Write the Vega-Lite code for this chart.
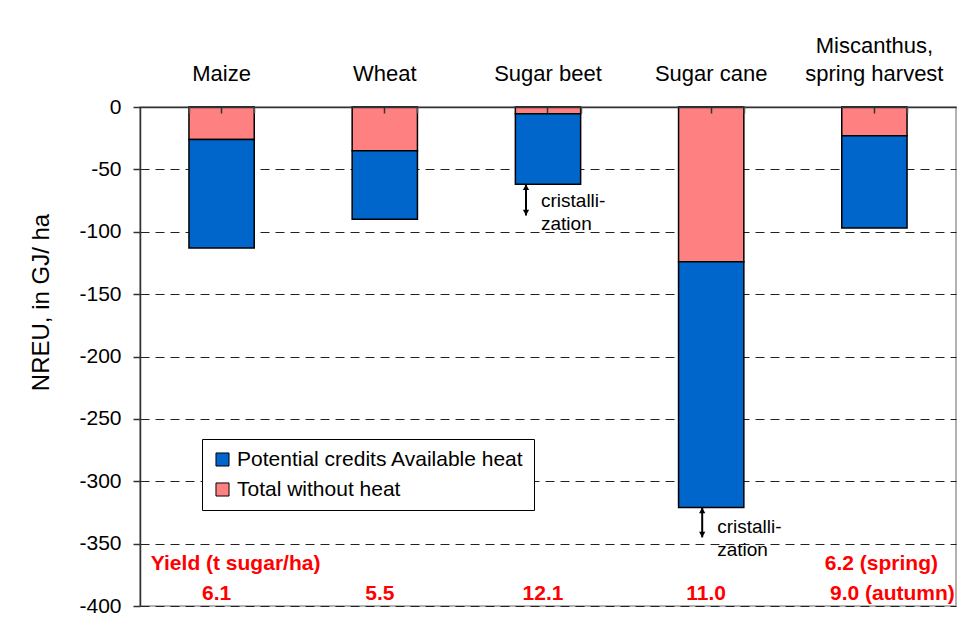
{
  "$schema": "https://vega.github.io/schema/vega-lite/v6.json",
  "width": 816,
  "height": 499,
  "autosize": {"type": "none"},
  "padding": {"left": 140, "top": 107, "right": 22, "bottom": 32},
  "background": "white",
  "config": {
    "font": "Liberation Sans",
    "view": {"stroke": "#999", "strokeWidth": 1.5}
  },
  "datasets": {
    "bars": [
      {"crop": "Maize", "series": "Total without heat", "value": -26},
      {"crop": "Maize", "series": "Potential credits Available heat", "value": -87},
      {"crop": "Wheat", "series": "Total without heat", "value": -35},
      {"crop": "Wheat", "series": "Potential credits Available heat", "value": -55},
      {"crop": "Sugar beet", "series": "Total without heat", "value": -5.5},
      {"crop": "Sugar beet", "series": "Potential credits Available heat", "value": -56.5},
      {"crop": "Sugar cane", "series": "Total without heat", "value": -124},
      {"crop": "Sugar cane", "series": "Potential credits Available heat", "value": -197},
      {"crop": "Miscanthus, spring harvest", "series": "Total without heat", "value": -23},
      {"crop": "Miscanthus, spring harvest", "series": "Potential credits Available heat", "value": -74}
    ],
    "notes": [
      {"crop": "Sugar beet", "top": -62, "bottom": -87, "texty": -75, "label": "cristalli-\nzation"},
      {"crop": "Sugar cane", "top": -321, "bottom": -345, "texty": -337, "label": "cristalli-\nzation"}
    ]
  },
  "layer": [
    {
      "data": {"name": "bars"},
      "mark": {"type": "bar", "stroke": "black", "strokeWidth": 1.5},
      "encoding": {
        "x": {
          "field": "crop", "type": "nominal",
          "sort": ["Maize", "Wheat", "Sugar beet", "Sugar cane", "Miscanthus, spring harvest"],
          "scale": {"paddingInner": 0.6, "paddingOuter": 0.3},
          "axis": {
            "orient": "top", "title": null, "labelAngle": 0, "labelFontSize": 22,
            "labelColor": "black", "labelPadding": 56, "tickSize": -6, "tickColor": "#333",
            "tickWidth": 1.5, "domainColor": "#333", "domainWidth": 1.5, "zindex": 2,
            "labelLineHeight": 28,
            "labelExpr": "datum.value == 'Miscanthus, spring harvest' ? ['Miscanthus,', 'spring harvest'] : ['', datum.value]"
          }
        },
        "y": {
          "field": "value", "type": "quantitative", "stack": "zero",
          "scale": {"domain": [-400, 0], "nice": false},
          "axis": {
            "title": "NREU, in GJ/ ha",
            "values": [0, -50, -100, -150, -200, -250, -300, -350, -400],
            "labelExpr": "toString(datum.value)",
            "grid": true, "gridDash": [9, 6], "gridColor": "#222", "gridWidth": 1,
            "tickSize": 7, "tickColor": "#333", "tickWidth": 1.5,
            "domainColor": "#333", "domainWidth": 1.5,
            "labelFontSize": 21, "labelColor": "black", "labelPadding": 12,
            "titleFontSize": 24, "titleFontWeight": "normal", "titleColor": "black",
            "titleX": -99, "titleY": 195, "titleAngle": -90,
            "titleAlign": "center", "titleBaseline": "middle"
          }
        },
        "color": {
          "field": "series", "type": "nominal",
          "scale": {"domain": ["Potential credits Available heat", "Total without heat"], "range": ["#0066CC", "#FF8080"]},
          "legend": {
            "orient": "none", "legendX": 62, "legendY": 332, "title": null,
            "symbolType": "square", "symbolSize": 170, "symbolStrokeColor": "black", "symbolStrokeWidth": 1,
            "labelFontSize": 21, "labelColor": "black", "labelLimit": 400,
            "strokeColor": "black", "fillColor": "white", "padding": 10, "rowPadding": 8
          }
        },
        "order": {"field": "series", "sort": "descending"}
      }
    },
    {
      "data": {"name": "bars"},
      "mark": {"type": "point", "opacity": 0},
      "encoding": {
        "x": {
          "field": "crop", "type": "nominal",
          "sort": ["Maize", "Wheat", "Sugar beet", "Sugar cane", "Miscanthus, spring harvest"],
          "axis": {"orient": "top", "title": null, "labels": false, "domain": false, "grid": false, "zindex": 2,
                   "tickBand": "extent", "tickSize": -6, "tickColor": "#555", "tickWidth": 1.5}
        }
      }
    },
    {
      "data": {"name": "notes"},
      "mark": {"type": "rule", "color": "black", "strokeWidth": 2,
               "xOffset": {"expr": "datum.crop == 'Sugar beet' ? -22 : -9"}},
      "encoding": {
        "x": {"field": "crop", "type": "nominal", "axis": null, "sort": ["Maize", "Wheat", "Sugar beet", "Sugar cane", "Miscanthus, spring harvest"]},
        "y": {"field": "top", "type": "quantitative"},
        "y2": {"field": "bottom"}
      }
    },
    {
      "data": {"name": "notes"},
      "mark": {"type": "point", "shape": "triangle-up", "filled": true, "color": "black", "opacity": 1,
               "size": 40, "yOffset": 3,
               "xOffset": {"expr": "datum.crop == 'Sugar beet' ? -22 : -9"}},
      "encoding": {
        "x": {"field": "crop", "type": "nominal", "axis": null, "sort": ["Maize", "Wheat", "Sugar beet", "Sugar cane", "Miscanthus, spring harvest"]},
        "y": {"field": "top", "type": "quantitative"}
      }
    },
    {
      "data": {"name": "notes"},
      "mark": {"type": "point", "shape": "triangle-down", "filled": true, "color": "black", "opacity": 1,
               "size": 40, "yOffset": -3,
               "xOffset": {"expr": "datum.crop == 'Sugar beet' ? -22 : -9"}},
      "encoding": {
        "x": {"field": "crop", "type": "nominal", "axis": null, "sort": ["Maize", "Wheat", "Sugar beet", "Sugar cane", "Miscanthus, spring harvest"]},
        "y": {"field": "bottom", "type": "quantitative"}
      }
    },
    {
      "data": {"name": "notes"},
      "mark": {"type": "text", "align": "left", "baseline": "middle", "fontSize": 19, "color": "black",
               "lineBreak": "\n", "lineHeight": 23, "dx": 15,
               "xOffset": {"expr": "datum.crop == 'Sugar beet' ? -22 : -9"}},
      "encoding": {
        "x": {"field": "crop", "type": "nominal", "axis": null, "sort": ["Maize", "Wheat", "Sugar beet", "Sugar cane", "Miscanthus, spring harvest"]},
        "y": {"field": "texty", "type": "quantitative"},
        "text": {"field": "label"}
      }
    },
    {
      "data": {"values": [
        {"crop": "Maize", "label": "6.1"},
        {"crop": "Wheat", "label": "5.5"},
        {"crop": "Sugar beet", "label": "12.1"},
        {"crop": "Sugar cane", "label": "11.0"},
        {"crop": "Miscanthus, spring harvest", "label": "9.0 (autumn)"}
      ]},
      "mark": {"type": "text", "align": "center", "baseline": "middle", "fontSize": 21, "fontWeight": "bold",
               "color": "#FF0000", "dx": {"expr": "datum.crop == 'Miscanthus, spring harvest' ? 18 : -5"}},
      "encoding": {
        "x": {"field": "crop", "type": "nominal", "axis": null, "sort": ["Maize", "Wheat", "Sugar beet", "Sugar cane", "Miscanthus, spring harvest"]},
        "y": {"datum": -390},
        "text": {"field": "label"}
      }
    },
    {
      "data": {"values": [
        {"crop": "Maize", "label": "Yield (t sugar/ha)"}
      ]},
      "mark": {"type": "text", "align": "center", "baseline": "middle", "fontSize": 21, "fontWeight": "bold",
               "color": "#FF0000", "dx": 14},
      "encoding": {
        "x": {"field": "crop", "type": "nominal", "axis": null, "sort": ["Maize", "Wheat", "Sugar beet", "Sugar cane", "Miscanthus, spring harvest"]},
        "y": {"datum": -366},
        "text": {"field": "label"}
      }
    },
    {
      "data": {"values": [
        {"crop": "Miscanthus, spring harvest", "label": "6.2 (spring)"}
      ]},
      "mark": {"type": "text", "align": "center", "baseline": "middle", "fontSize": 21, "fontWeight": "bold",
               "color": "#FF0000", "dx": 7},
      "encoding": {
        "x": {"field": "crop", "type": "nominal", "axis": null, "sort": ["Maize", "Wheat", "Sugar beet", "Sugar cane", "Miscanthus, spring harvest"]},
        "y": {"datum": -366},
        "text": {"field": "label"}
      }
    }
  ],
  "resolve": {"axis": {"x": "independent"}}
}
